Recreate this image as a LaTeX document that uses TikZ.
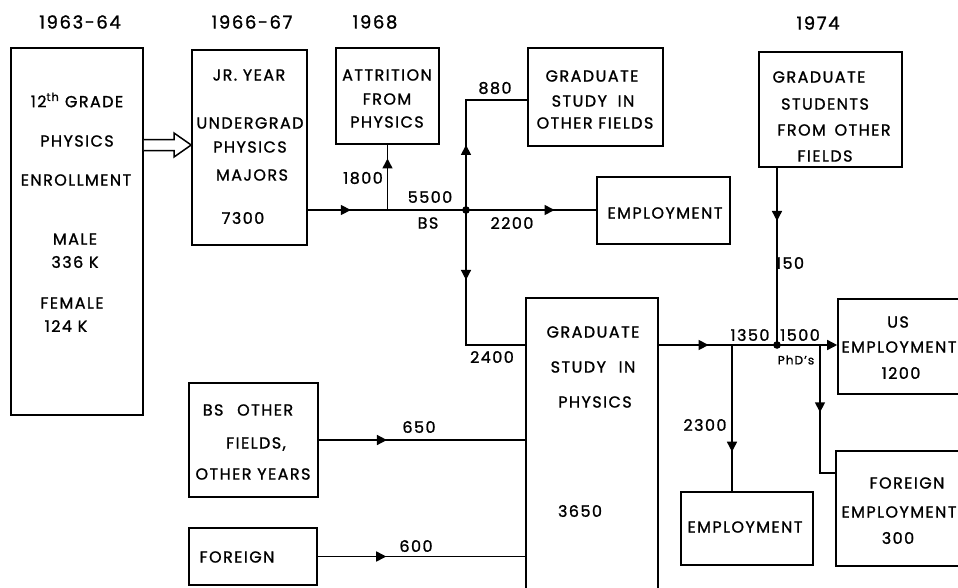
\documentclass[tikz,border=0pt]{standalone}
\usepackage{fontspec}
\setmainfont{Poppins}[FakeBold=1.2, LetterSpace=9]
\usetikzlibrary{arrows.meta,decorations.markings}

\tikzset{
  box/.style={draw, line width=1.6pt, inner sep=0pt},
  lbl/.style={inner sep=0pt, font=\fontsize{16}{18}\selectfont},
  small/.style={inner sep=0pt, font=\fontsize{12}{14}\selectfont},
  year/.style={inner sep=0pt, font=\fontsize{18}{20}\selectfont},
  flow/.style={postaction={decorate}, decoration={markings,
    mark=at position #1 with {\arrow{Triangle[length=10pt,width=10pt]}}}},
}

\begin{document}
\begin{tikzpicture}[x=1pt, y=-1pt, line width=1.5pt]
\useasboundingbox (0,0) rectangle (958,587);
\clip (0,0) rectangle (958,587);

% years along the top
\node[year] (y1) at (80,22) {1963-64};
\node[year] (y2) at (252,22) {1966-67};
\node[year] (y3) at (375,22) {1968};
\node[year] (y4) at (818,23) {1974};

% boxes
\node[box, minimum width=132pt, minimum height=367pt] (enroll) at (77,231.5) {};
\node[box, minimum width=115pt, minimum height=195pt] (jr) at (249.5,147.5) {};
\node[box, minimum width=103pt, minimum height=96pt] (attr) at (387.5,96) {};
\node[box, minimum width=135pt, minimum height=98pt] (gother) at (595.5,97) {};
\node[box, minimum width=133pt, minimum height=67pt] (emp1) at (663.5,210.5) {};
\node[box, minimum width=143pt, minimum height=115pt] (gstud) at (830.5,109.5) {};
\node[box, minimum width=132pt, minimum height=302pt] (gphys) at (592,449) {};
\node[box, minimum width=127pt, minimum height=95pt] (usemp) at (901.5,346.5) {};
\node[box, minimum width=129pt, minimum height=115pt] (foremp) at (900.5,508.5) {};
\node[box, minimum width=132pt, minimum height=73pt] (emp2) at (747,528.5) {};
\node[box, minimum width=129pt, minimum height=114pt] (bsoth) at (253.5,440) {};
\node[box, minimum width=128pt, minimum height=57pt] (foreign) at (253,556.5) {};

% box texts
\foreach \txt/\xx/\yy [count=\i] in {{12\textsuperscript{th} GRADE}/77/100, PHYSICS/77/141,
    ENROLLMENT/76/180, MALE/75/239, 336 K/75/262, FEMALE/72/303, 124 K/66/326}
  \node[lbl] (enroll-\i) at (\xx,\yy) {\txt};
\foreach \txt/\xx/\yy [count=\i] in {JR. YEAR/249/75, UNDERGRAD/250/123, PHYSICS/250/147,
    MAJORS/252/175, 7300/243/218}
  \node[lbl] (jr-\i) at (\xx,\yy) {\txt};
\foreach \txt/\xx/\yy [count=\i] in {ATTRITION/387/75, FROM/387/99, PHYSICS/387/122}
  \node[lbl] (attr-\i) at (\xx,\yy) {\txt};
\foreach \txt/\xx/\yy [count=\i] in {GRADUATE/592/76, STUDY\hspace{5pt} IN/593/101, OTHER FIELDS/595/123}
  \node[lbl] (gother-\i) at (\xx,\yy) {\txt};
\node[lbl] (emp1-1) at (665,213) {EMPLOYMENT};
\foreach \txt/\xx/\yy [count=\i] in {GRADUATE/819/77, STUDENTS/825/104,
    FROM\hspace{3pt} OTHER/834/130, FIELDS/825/156}
  \node[lbl] (gstud-\i) at (\xx,\yy) {\txt};
\foreach \txt/\xx/\yy [count=\i] in {GRADUATE/593/332, STUDY\hspace{7pt} IN/593/367, PHYSICS/595/402, 3650/580/511}
  \node[lbl] (gphys-\i) at (\xx,\yy) {\txt};
\foreach \txt/\xx/\yy [count=\i] in {US/898/322, EMPLOYMENT/899/347, 1200/901/373}
  \node[lbl] (usemp-\i) at (\xx,\yy) {\txt};
\foreach \txt/\xx/\yy [count=\i] in {FOREIGN/907/483, EMPLOYMENT/899/512, 300/898/538}
  \node[lbl] (foremp-\i) at (\xx,\yy) {\txt};
\node[lbl] (emp2-1) at (745,527) {EMPLOYMENT};
\foreach \txt/\xx/\yy [count=\i] in {BS\hspace{8pt} OTHER/248/410, {FIELDS,}/256/444, OTHER YEARS/253/474}
  \node[lbl] (bsoth-\i) at (\xx,\yy) {\txt};
\node[lbl] (foreign-1) at (237,557) {FOREIGN};

% branch points
\coordinate (split) at (387.5,210);
\coordinate (bs) at (466,210);
\coordinate (up) at (466,100);
\coordinate (down) at (466,345);
\coordinate (gsplit) at (732,345);
\coordinate (phd) at (777,345);
\coordinate (fsplit) at (820,345);
\coordinate (fturn) at (820,473);

% hollow arrow into the junior year
\draw[fill=white] (enroll.east |- 0,139.5) -- (174,139.5) -- (174,133) -- (jr.west |- 0,145)
  -- (174,157) -- (174,150.5) -- (enroll.east |- 0,150.5);

% flows
\draw[flow=0.54] (jr.east |- split) -- (split);
\draw[flow=0.79] (split) -- (attr.south);
\draw (split) -- (bs);
\draw[flow=0.38] (bs) -- (up) -- (gother.west |- up);
\draw[flow=0.68] (bs) -- (emp1.west |- bs);
\draw[flow=0.36] (bs) -- (down) -- (gphys.west |- down);
\draw[flow=0.33] (bsoth.east) -- (gphys.west |- bsoth.east);
\draw[flow=0.33] (foreign.east) -- (gphys.west |- foreign.east);
\draw[flow=0.68] (gphys.east |- down) -- (gsplit);
\draw[flow=0.73] (gsplit) -- (gsplit |- emp2.north);
\draw (gsplit) -- (phd);
\draw[flow=0.30] (phd |- gstud.south) -- (phd);
\draw[-{Triangle[length=10pt,width=10pt]}] (phd) -- (usemp.west |- phd);
\draw[flow=0.47] (fsplit) -- (fturn) -- (foremp.west |- fturn);
\fill (bs) circle (3.8pt);
\fill (phd) circle (3.8pt);

% flow numbers
\node[lbl] (n1800) at (363,178) {1800};
\node[lbl] (n5500) at (430,197) {5500};
\node[lbl] (nbs) at (428,223) {BS};
\node[lbl] (n2200) at (512,223) {2200};
\node[lbl] (n880) at (495,88) {880};
\node[lbl] (n2400) at (492,357) {2400};
\node[lbl] (n650) at (419,427) {650};
\node[lbl] (n600) at (416,546) {600};
\node[lbl] (n1350) at (750,335) {1350};
\node[lbl] (n1500) at (800,335) {1500};
\node[small] (nphd) at (796,360) {PhD's};
\node[lbl] (n2300) at (705,425) {2300};
\node[lbl] (n150) at (790,263) {150};
\end{tikzpicture}
\end{document}
